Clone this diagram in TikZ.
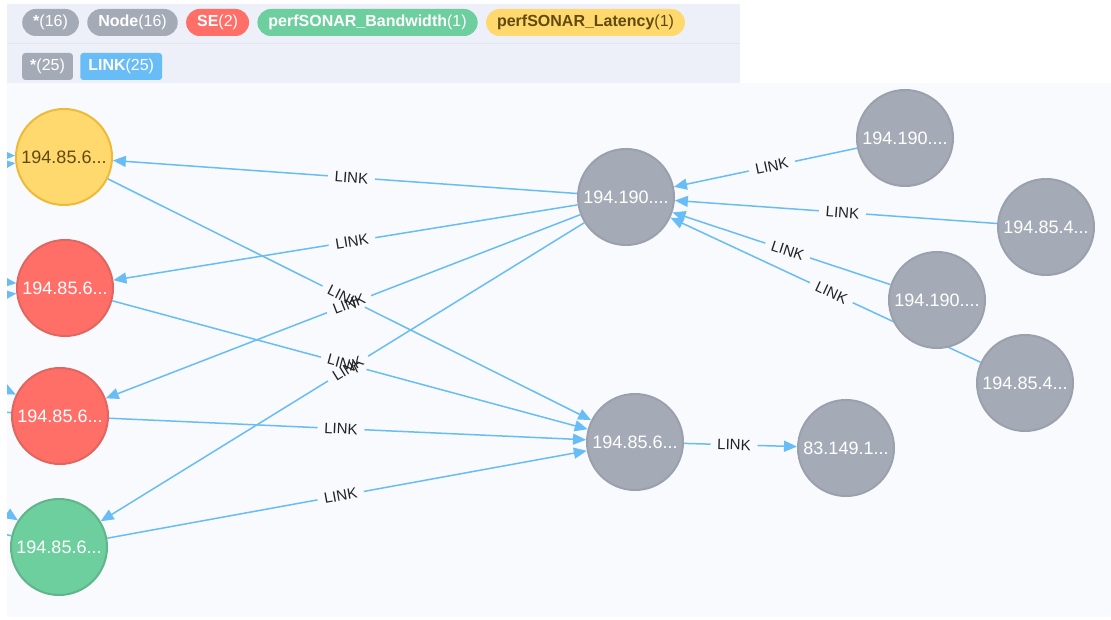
\documentclass[tikz,border=0pt]{standalone}
\usepackage{fontspec}
\setmainfont{Liberation Sans}
\usetikzlibrary{calc,arrows.meta}

\definecolor{panelbg}{HTML}{EDF0F8}
\definecolor{panelrule}{HTML}{E2E6EF}
\definecolor{canvasbg}{HTML}{F8FAFD}
\definecolor{greyfill}{HTML}{A5ABB6}
\definecolor{greyline}{HTML}{9AA1AC}
\definecolor{redfill}{HTML}{FF6F68}
\definecolor{redline}{HTML}{E06760}
\definecolor{greenfill}{HTML}{6DCE9E}
\definecolor{greenline}{HTML}{60B58B}
\definecolor{yellowfill}{HTML}{FFD86E}
\definecolor{yellowline}{HTML}{EDBA39}
\definecolor{yellowtext}{HTML}{604A0E}
\definecolor{linkblue}{HTML}{68BDF6}
\definecolor{labeltext}{HTML}{222222}

\pgfdeclarelayer{canvas}
\pgfdeclarelayer{links}
\pgfsetlayers{canvas,links,main}

\tikzset{
  pill/.style={rounded corners=13.5pt, minimum height=27pt, inner xsep=11pt, inner ysep=0pt,
    text=white, font=\fontsize{16}{18}\selectfont, anchor=west},
  tag/.style={rounded corners=3pt, minimum height=27pt, inner xsep=8pt, inner ysep=0pt,
    text=white, font=\fontsize{16}{18}\selectfont, anchor=west},
  host/.style={circle, minimum size=96pt, inner sep=0pt, line width=2pt,
    font=\fontsize{18}{20}\selectfont, text=white},
  grey host/.style={host, fill=greyfill, draw=greyline},
  red host/.style={host, fill=redfill, draw=redline},
  green host/.style={host, fill=greenfill, draw=greenline},
  yellow host/.style={host, fill=yellowfill, draw=yellowline, text=yellowtext},
  link/.style={draw=linkblue, line width=1.5pt, -{Triangle[length=13pt,width=11pt]}},
  linkgap/.style={fill=canvasbg, inner sep=0pt, minimum width=47pt, minimum height=13pt, sloped},
  linklabel/.style={text=labeltext, inner sep=0pt, sloped, font=\fontsize{15}{17}\selectfont},
}

\begin{document}
\begin{tikzpicture}[x=1pt, y=-1pt]
\useasboundingbox (0,0) rectangle (1111,620);

\begin{pgfonlayer}{canvas}
  \fill[white] (0,0) rectangle (1111,620);
  % legend panel
  \fill[panelbg] (7,4) rectangle (740,83);
  \draw[panelrule, line width=1pt] (7,44) -- (740,44);
  % graph canvas
  \fill[canvasbg] (7,83) rectangle (1111,617);
\end{pgfonlayer}

% legend: node labels
\node[pill, fill=greyfill] (p1) at (22,22.5) {{\bfseries *}(16)};
\node[pill, fill=greyfill] (p2) at ([xshift=8pt]p1.east) {{\bfseries Node}(16)};
\node[pill, fill=redfill] (p3) at ([xshift=8pt]p2.east) {{\bfseries SE}(2)};
\node[pill, fill=greenfill] (p4) at ([xshift=8pt]p3.east) {{\bfseries perfSONAR\_Bandwidth}(1)};
\node[pill, fill=yellowfill, text=yellowtext] (p5) at ([xshift=8pt]p4.east) {{\bfseries perfSONAR\_Latency}(1)};

% legend: relationship types
\node[tag, fill=greyfill] (t1) at (22,66.5) {{\bfseries *}(25)};
\node[tag, fill=linkblue] (t2) at ([xshift=7pt]t1.east) {{\bfseries LINK}(25)};

% hosts
\node[yellow host] (yel) at (64,157) {194.85.6...};
\node[red host]    (rda) at (65,288) {194.85.6...};
\node[red host]    (rdb) at (60,416) {194.85.6...};
\node[green host]  (grn) at (59,547) {194.85.6...};
\node[grey host]   (g1)  at (626,197) {194.190....};
\node[grey host]   (g2)  at (905,138) {194.190....};
\node[grey host]   (g3)  at (1046,227) {194.85.4...};
\node[grey host]   (g4)  at (937,300) {194.190....};
\node[grey host]   (g5)  at (1025,383) {194.85.4...};
\node[grey host]   (g6)  at (635,442) {194.85.6...};
\node[grey host]   (g7)  at (846,448) {83.149.1...};

% hosts outside the visible canvas
\coordinate (xa) at (-200,150);
\coordinate (xb) at (-200,190);
\coordinate (xc) at (-200,262);
\coordinate (xd) at (-200,318);
\coordinate (xe) at (-200,290);
\coordinate (xf) at (-200,398);
\coordinate (xg) at (-200,379);
\coordinate (xh) at (-200,486);

\begin{pgfonlayer}{links}
  % links to hosts beyond the left edge
  \begin{scope}
    \clip (7,83) rectangle (1111,617);
    \foreach \s/\t in {xa/yel, xb/yel, xc/rda, xd/rda, xe/rdb, rdb/xf, xg/grn, grn/xh}
      \draw[link] (\s) -- (\t);
  \end{scope}

  % visible links
  \foreach \s/\t in {g1/yel, g1/rda, g1/rdb, g1/grn, yel/g6, rda/g6, rdb/g6, grn/g6,
                     g6/g7, g2/g1, g3/g1, g4/g1, g5/g1}
    \draw[link] (\s) -- (\t);

  % gaps in the lines behind the link captions
  \foreach \s/\t in {g1/yel, g1/rda, g1/rdb, g1/grn, yel/g6, rda/g6, rdb/g6, grn/g6,
                     g6/g7, g2/g1, g3/g1, g4/g1, g5/g1}
    \path ($(\s)!49pt!(\t)$) -- ($(\t)!62pt!(\s)$) node[midway, linkgap] {};

  % link captions
  \foreach \s/\t in {g1/yel, g1/rda, g1/rdb, g1/grn, yel/g6, rda/g6, rdb/g6, grn/g6,
                     g6/g7, g2/g1, g3/g1, g4/g1, g5/g1}
    \path ($(\s)!49pt!(\t)$) -- ($(\t)!62pt!(\s)$) node[midway, linklabel] {LINK};
\end{pgfonlayer}
\end{tikzpicture}
\end{document}
